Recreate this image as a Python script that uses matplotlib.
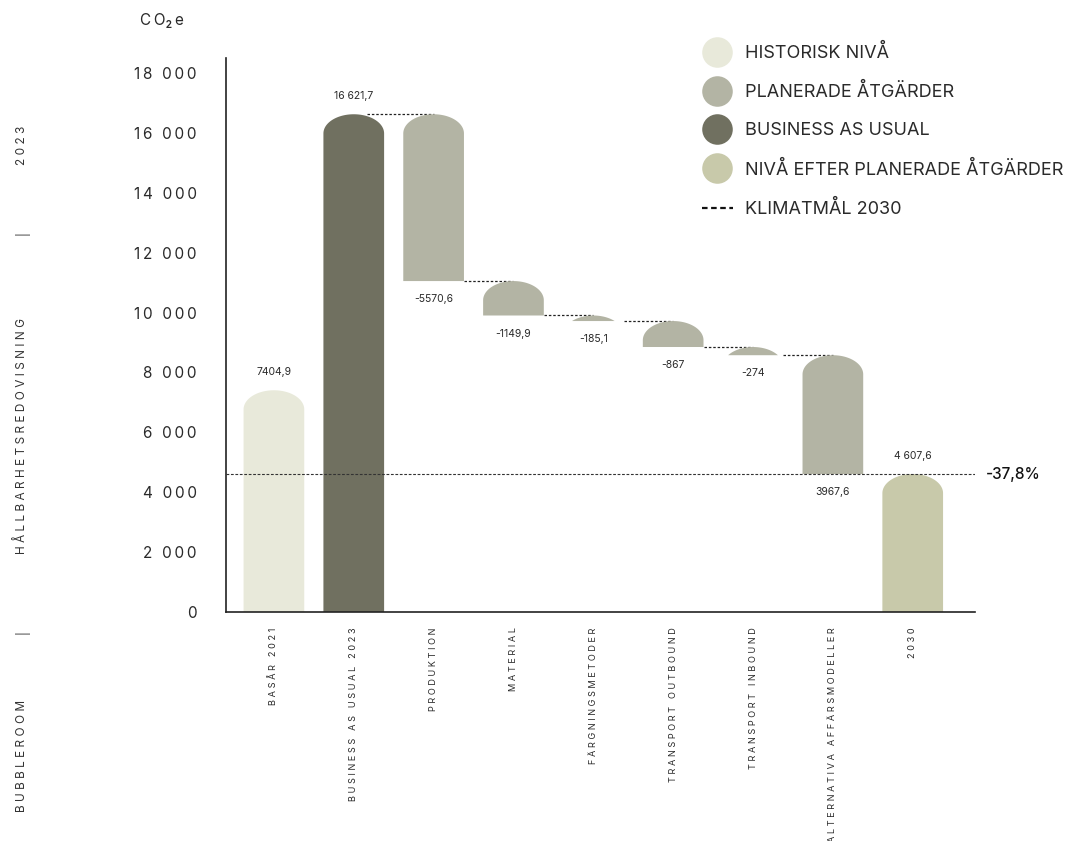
#waterfall chart, co2e reduction 2021 -> 2030

import numpy as np
import matplotlib.pyplot as plt
from matplotlib.patches import Polygon
from matplotlib.lines import Line2D

plt.rcParams['font.family'] = ['Inter', 'DejaVu Sans']

categories = ['BASÅR 2021', 'BUSINESS AS USUAL 2023', 'PRODUKTION', 'MATERIAL',
              'FÄRGNINGSMETODER', 'TRANSPORT OUTBOUND', 'TRANSPORT INBOUND',
              'ALTERNATIVA AFFÄRSMODELLER', '2030']
values = [7404.9, 16621.7, -5570.6, -1149.9, -185.1, -867, -274, -3967.6, 4607.6]
value_labels = ['7404,9', '16 621,7', '-5570,6', '-1149,9', '-185,1', '-867', '-274',
                '3967,6', '4 607,6']
kinds = ['hist', 'bau', 'plan', 'plan', 'plan', 'plan', 'plan', 'plan', 'after']
target_2030 = 4607.6
target_label = '-37,8%'
yticks = [0, 2000, 4000, 6000, 8000, 10000, 12000, 14000, 16000, 18000]
legend_labels = ['HISTORISK NIVÅ', 'PLANERADE ÅTGÄRDER', 'BUSINESS AS USUAL',
                 'NIVÅ EFTER PLANERADE ÅTGÄRDER', 'KLIMATMÅL 2030']
side_texts = ['2023', '|', 'HÅLLBARHETSREDOVISNING', '|', 'BUBBLEROOM']

colors = {'hist': '#e8e9da', 'plan': '#b3b4a4', 'bau': '#707060', 'after': '#c8c9aa'}
txt_col = '#2a2a2a'


def spaced(s, sep='\u2009'):
    return sep.join(list(s))


def dome_bar(ax, x, bottom, top, width, cap, color):
    rx = width / 2
    h = top - bottom
    if h >= cap:
        t = np.linspace(0, np.pi, 80)
        arc = np.column_stack([x + rx * np.cos(t), top - cap + cap * np.sin(t)])
        pts = np.vstack([[x - rx, bottom], [x + rx, bottom], arc])
    else:
        t0 = np.arcsin((cap - h) / cap)
        t = np.linspace(t0, np.pi - t0, 80)
        pts = np.column_stack([x + rx * np.cos(t), top - cap + cap * np.sin(t)])
    ax.add_patch(Polygon(pts, closed=True, facecolor=color, edgecolor='none', zorder=2))


fig = plt.figure(figsize=(10.66, 8.41), dpi=100)
ax = fig.add_axes([226 / 1066, 1 - 612 / 841, (975 - 226) / 1066, (612 - 58) / 841])

width = 0.76
cap = 640
level = 0
bars = []
for i, (v, k) in enumerate(zip(values, kinds)):
    if k == 'plan':
        top, bottom = level, level + v
        level = bottom
    else:
        top, bottom = v, 0
        level = v
    bars.append((bottom, top))
    dome_bar(ax, i, bottom, top, width, cap, colors[k])

# connectors between steps
for i in range(len(values) - 1):
    if kinds[i + 1] != 'plan':
        continue
    y = bars[i + 1][1]
    x0 = i + 0.16 if kinds[i] == 'bau' else i + width / 2
    ax.plot([x0, i + 1], [y, y], color='#222222', lw=0.9, ls=(0, (2, 1.5)), zorder=1)

# value labels
for i, (lab, k) in enumerate(zip(value_labels, kinds)):
    bottom, top = bars[i]
    if k == 'plan':
        ax.annotate(lab, (i, bottom), xytext=(0, -13), textcoords='offset points',
                    ha='center', va='center', fontsize=7.5, color=txt_col)
    else:
        ax.annotate(lab, (i, top), xytext=(0, 13), textcoords='offset points',
                    ha='center', va='center', fontsize=7.5, color=txt_col)

# klimatmal line
ax.axhline(target_2030, color='#333333', lw=0.8, ls=(0, (2.5, 1.5)), zorder=3)
ax.annotate(target_label, xy=(1, target_2030), xycoords=('axes fraction', 'data'),
            xytext=(8, 0), textcoords='offset points', ha='left', va='center',
            fontsize=11, fontweight='medium', color='#111111')

ax.set_xlim(-0.6, len(values) - 1 + 0.78)
ax.set_ylim(0, 18500)
ax.set_yticks(yticks)
ax.set_yticklabels([spaced(f'{v:,}'.replace(',', ' ')) for v in yticks],
                   fontsize=11, color=txt_col)
ax.set_xticks(range(len(categories)))
ax.set_xticklabels([spaced(c, ' ') for c in categories], rotation=90, va='top',
                   ha='center', fontsize=6.6, color=txt_col)
ax.tick_params(axis='y', length=0, pad=21)
ax.tick_params(axis='x', length=0, pad=11)
for s in ['top', 'right']:
    ax.spines[s].set_visible(False)
for s in ['left', 'bottom']:
    ax.spines[s].set_linewidth(1.2)
    ax.spines[s].set_color('#222222')

fig.text(140 / 1066, 1 - 20 / 841, 'C\u2009O\u2082\u2009e', ha='left', va='center',
         fontsize=11, color=txt_col)

# legend
handles = [Line2D([], [], ls='', marker='o', ms=22, mec='none', color=colors[k])
           for k in ['hist', 'plan', 'bau', 'after']]
handles.append(Line2D([], [], color='#111111', lw=1.6, ls=(0, (2.5, 1.6))))
fig.legend(handles, legend_labels, loc='upper left',
           bbox_to_anchor=(702 / 1066, 1 - 44 / 841), frameon=False, fontsize=13,
           labelspacing=1.17, handlelength=1.7, handletextpad=0.7, borderpad=0,
           borderaxespad=0, labelcolor=txt_col)

# side texts
side_y = [145, 233, 436, 632, 756]
for t, y in zip(side_texts, side_y):
    fig.text(22 / 1066, 1 - y / 841, spaced(t, ' '), rotation=90, ha='center',
             va='center', fontsize=8.5, color='#333333')

fig.savefig('out.png', dpi=100)
